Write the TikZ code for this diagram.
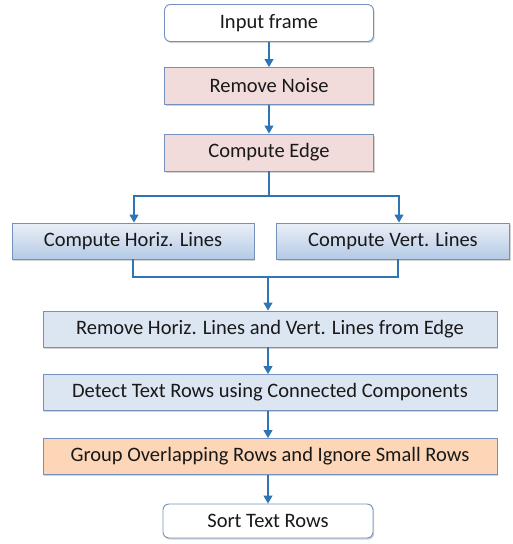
\documentclass[tikz,border=0pt]{standalone}
\usepackage{fontspec}
\setmainfont{Carlito}
\usetikzlibrary{arrows.meta,shadows}
\definecolor{bordc}{HTML}{7391BA}
\definecolor{arrc}{HTML}{2F74B5}
\definecolor{pinkf}{HTML}{F2DCDB}
\definecolor{bluef}{HTML}{DCE6F2}
\definecolor{blueg}{HTML}{B4CAE6}
\definecolor{orangef}{HTML}{FCD6B6}
\tikzset{
  box/.style={draw=bordc, line width=0.9pt, minimum height=37pt, inner sep=0pt,
    font=\fontsize{20.5}{24}\selectfont, text=black!90,
    drop shadow={shadow xshift=1.2pt, shadow yshift=-1.6pt, opacity=0.35}},
  roundbox/.style={box, fill=white, rounded corners=6pt},
  pinkbox/.style={box, fill=pinkf},
  bluebox/.style={box, fill=bluef},
  gradbox/.style={box, top color=bluef!60!white, bottom color=blueg},
  orangebox/.style={box, fill=orangef},
  conn/.style={draw=arrc, line width=1.1pt},
  arr/.style={conn, -{Triangle[width=9pt,length=8pt]}}
}
\begin{document}
\begin{tikzpicture}[x=1pt,y=-1pt]
\useasboundingbox (0,0) rectangle (512,544);
\node[roundbox, minimum width=209pt] (inp) at (269,23) {Input frame};
\node[pinkbox, minimum width=209pt] (noise) at (269,86) {Remove Noise};
\node[pinkbox, minimum width=209pt] (edge) at (269,152.5) {Compute Edge};
\node[gradbox, minimum width=242pt, minimum height=36pt] (hor) at (133,241) {Compute Horiz. Lines};
\node[gradbox, minimum width=233pt, minimum height=36pt] (ver) at (393,241) {Compute Vert. Lines};
\node[bluebox, minimum width=454pt, minimum height=36pt] (rem) at (270,329) {Remove Horiz. Lines and Vert. Lines from Edge};
\node[bluebox, minimum width=454pt, minimum height=36pt] (det) at (270,392.5) {Detect Text Rows using Connected Components};
\node[orangebox, minimum width=454pt, minimum height=36pt] (grp) at (270,456.5) {Group Overlapping Rows and Ignore Small Rows};
\node[roundbox, minimum width=210pt, minimum height=34pt] (sort) at (268,521) {Sort Text Rows};
\coordinate (split) at (269,196);
\coordinate (merge) at (268,277);
\draw[arr] (inp) -- (noise);
\draw[arr] (noise) -- (edge);
\draw[conn] (edge.south) -- (split);
\draw[arr] (split) -| (hor.north -| 134,0);
\draw[arr] (split) -| (ver.north -| 399,0);
\draw[conn] (hor.south -| 133,0) |- (merge);
\draw[conn] (ver.south -| 398,0) |- (merge);
\draw[arr] (merge) -- (rem.north -| merge);
\draw[arr] (rem.south -| 268,0) -- (det.north -| 268,0);
\draw[arr] (det.south -| 268,0) -- (grp.north -| 268,0);
\draw[arr] (grp.south -| 268,0) -- (sort.north -| 268,0);
\end{tikzpicture}
\end{document}
